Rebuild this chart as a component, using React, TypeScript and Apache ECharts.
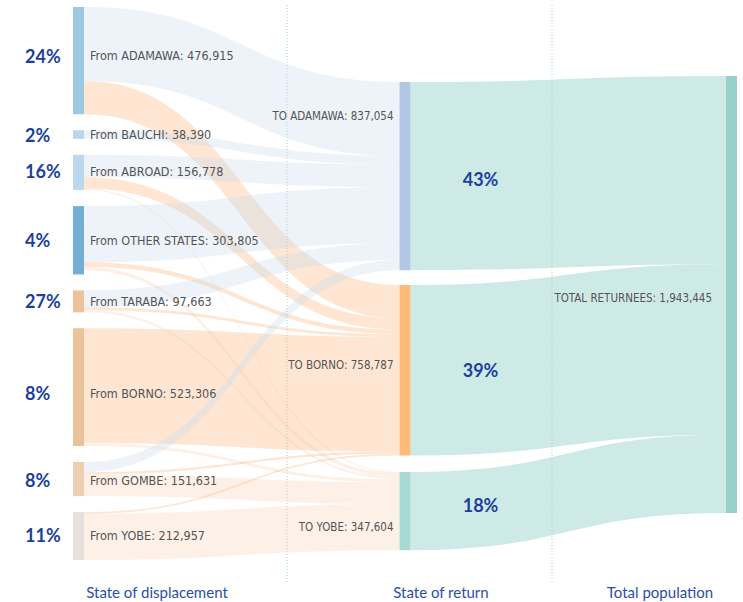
import React, { useEffect, useRef } from "react";
import * as echarts from "echarts";

// ---------- data ----------
const sourceNames = ["ADAMAWA", "BAUCHI", "ABROAD", "OTHER STATES", "TARABA", "BORNO", "GOMBE", "YOBE"];
const sourceValues = [476915, 38390, 156778, 303805, 97663, 523306, 151631, 212957];
const sourcePercents = ["24%", "2%", "16%", "4%", "27%", "8%", "8%", "11%"];

const targetNames = ["ADAMAWA", "BORNO", "YOBE"];
const targetValues = [837054, 758787, 347604];
const targetPercents = ["43%", "39%", "18%"];

const totalName = "TOTAL RETURNEES";
const totalValue = 1943445;

// flows from each source (same order as sourceNames) to each state of return
const flowsToAdamawa = [328664, 38390, 100000, 250000, 75000, 0, 45000, 0];
const flowsToBorno = [148251, 0, 50000, 20000, 12663, 509873, 10000, 8000];
const flowsToYobe = [0, 0, 6778, 15805, 10000, 13433, 96631, 204957];

const columnTitles = ["State of displacement", "State of return", "Total population"];

// ---------- styles / layout ----------
const W = 743;
const H = 602;
const SERIES_LEFT = 73;
const SERIES_TOP = 7;
const SERIES_W = 664;
const SERIES_H = 553;
const NODE_W = 11;
const NODE_GAP = 16;

const sourceColors = ["#9cc8e2", "#b9d6ed", "#bcd8ee", "#72afd3", "#efc399", "#eac39b", "#ecceb1", "#e6e1dc"];
const targetColors = ["#b3c6e6", "#fdba79", "#a8dad5"];
const totalColor = "#96d2c9";
const linkColors = [
  { color: "#c9dcee", opacity: 0.34 },
  { color: "#fbb478", opacity: 0.33 },
  { color: "#f8c9a0", opacity: 0.25 },
];
const totalLinkStyle = { color: "#a6d9d4", opacity: 0.55 };
const targetLocalY = [0.1356, 0.5027, 0.8409];
const totalLocalY = 0.1247;
const targetLabelOffset = [-60, -5, 16];
const targetPctNudge = [3, 0, -6];
const sourceLabelNudge = [-5, 0, -1, 0, 0, 6, 1, -1];

const NARROW = "'DejaVu Sans Condensed', 'Liberation Sans Narrow', sans-serif";
const PCT_FONT = "Lato, 'Open Sans', sans-serif";
const PCT_COLOR = "#1c3f9f";
const LABEL_COLOR = "#545456";
const LABEL_SIZE = 12.5;
const CAPS_LABEL_SIZE = 11.5;

const fmt = (v: number) => v.toLocaleString("en-US");

export default function App() {
  const ref = useRef<HTMLDivElement>(null);

  useEffect(() => {
    document.body.style.margin = "0";
    if (!ref.current) return;
    const chart = echarts.init(ref.current, null, { renderer: "svg" });

    const flowTables = [flowsToAdamawa, flowsToBorno, flowsToYobe];

    const nodes: any[] = [];
    sourceNames.forEach((n, i) => {
      nodes.push({
        name: "From " + n,
        value: sourceValues[i],
        itemStyle: { color: sourceColors[i] },
        label: {
          position: [-48, "50%"],
          offset: [0, sourceLabelNudge[i]],
          align: "left",
          verticalAlign: "middle",
          formatter: `{p|${sourcePercents[i]}}{n|From ${n}: ${fmt(sourceValues[i])}}`,
          rich: {
            p: { width: 65, fontSize: 18, fontWeight: "bold", fontFamily: PCT_FONT, color: PCT_COLOR },
            n: { fontSize: LABEL_SIZE, fontFamily: NARROW, color: LABEL_COLOR },
          },
        },
      });
    });
    targetNames.forEach((n, i) => {
      nodes.push({
        name: "TO " + n,
        value: targetValues[i],
        localX: (SERIES_W - NODE_W) / 2 / SERIES_W,
        localY: targetLocalY[i],
        itemStyle: { color: targetColors[i] },
        label: {
          position: "left",
          distance: 6,
          offset: [0, targetLabelOffset[i]],
          formatter: `TO ${n}: ${fmt(targetValues[i])}`,
          fontSize: CAPS_LABEL_SIZE,
          fontFamily: NARROW,
          color: LABEL_COLOR,
        },
      });
    });
    nodes.push({
      name: totalName,
      value: totalValue,
      localX: (SERIES_W - NODE_W) / SERIES_W,
      localY: totalLocalY,
      itemStyle: { color: totalColor },
      label: {
        position: "left",
        distance: 14,
        offset: [0, 4],
        formatter: `${totalName}: ${fmt(totalValue)}`,
        fontSize: CAPS_LABEL_SIZE,
        fontFamily: NARROW,
        color: LABEL_COLOR,
      },
    });

    const links: any[] = [];
    sourceNames.forEach((n, i) => {
      targetNames.forEach((t, j) => {
        const v = flowTables[j][i];
        if (v > 0) {
          links.push({
            source: "From " + n,
            target: "TO " + t,
            value: v,
            lineStyle: { color: linkColors[j].color, opacity: linkColors[j].opacity },
          });
        }
      });
    });
    targetNames.forEach((t, j) => {
      links.push({
        source: "TO " + t,
        target: totalName,
        value: targetValues[j],
        lineStyle: { ...totalLinkStyle },
      });
    });

    // scale used by the sankey layout (left column is the tightest)
    const sumLeft = sourceValues.reduce((a, b) => a + b, 0);
    const ky = (SERIES_H - NODE_GAP * (sourceValues.length - 1)) / sumLeft;
    const midX = SERIES_LEFT + (SERIES_W - NODE_W) / 2 + NODE_W;

    const graphics: any[] = [];
    [287, 552].forEach((x) => {
      graphics.push({
        type: "line",
        z: -1,
        shape: { x1: x, y1: 5, x2: x, y2: 584 },
        style: { stroke: "#9ad3cf", lineWidth: 1, lineDash: [1, 2] },
        silent: true,
      });
    });
    targetPercents.forEach((p, i) => {
      const cy = SERIES_TOP + targetLocalY[i] * SERIES_H + (targetValues[i] * ky) / 2 + targetPctNudge[i];
      graphics.push({
        type: "text",
        z: 100,
        x: midX + 70,
        y: cy,
        style: {
          text: p,
          fontSize: 18,
          fontWeight: "bold",
          fontFamily: PCT_FONT,
          fill: PCT_COLOR,
          align: "center",
          verticalAlign: "middle",
        },
        silent: true,
      });
    });
    const titleX = [157, 441, 660];
    columnTitles.forEach((t, i) => {
      graphics.push({
        type: "text",
        z: 100,
        x: titleX[i],
        y: 592,
        style: {
          text: t,
          fontSize: 15,
          fontFamily: PCT_FONT,
          fill: "#2b4ea9",
          align: "center",
          verticalAlign: "middle",
        },
        silent: true,
      });
    });

    chart.setOption({
      animation: false,
      backgroundColor: "#ffffff",
      graphic: graphics,
      series: [
        {
          type: "sankey",
          left: SERIES_LEFT,
          top: SERIES_TOP,
          width: SERIES_W,
          height: SERIES_H,
          nodeWidth: NODE_W,
          nodeGap: NODE_GAP,
          layoutIterations: 0,
          draggable: false,
          nodeAlign: "justify",
          emphasis: { disabled: true },
          lineStyle: { curveness: 0.5 },
          itemStyle: { borderWidth: 0 },
          data: nodes,
          links: links,
        },
      ],
    });

    return () => chart.dispose();
  }, []);

  return <div ref={ref} style={{ width: W, height: H }} />;
}
